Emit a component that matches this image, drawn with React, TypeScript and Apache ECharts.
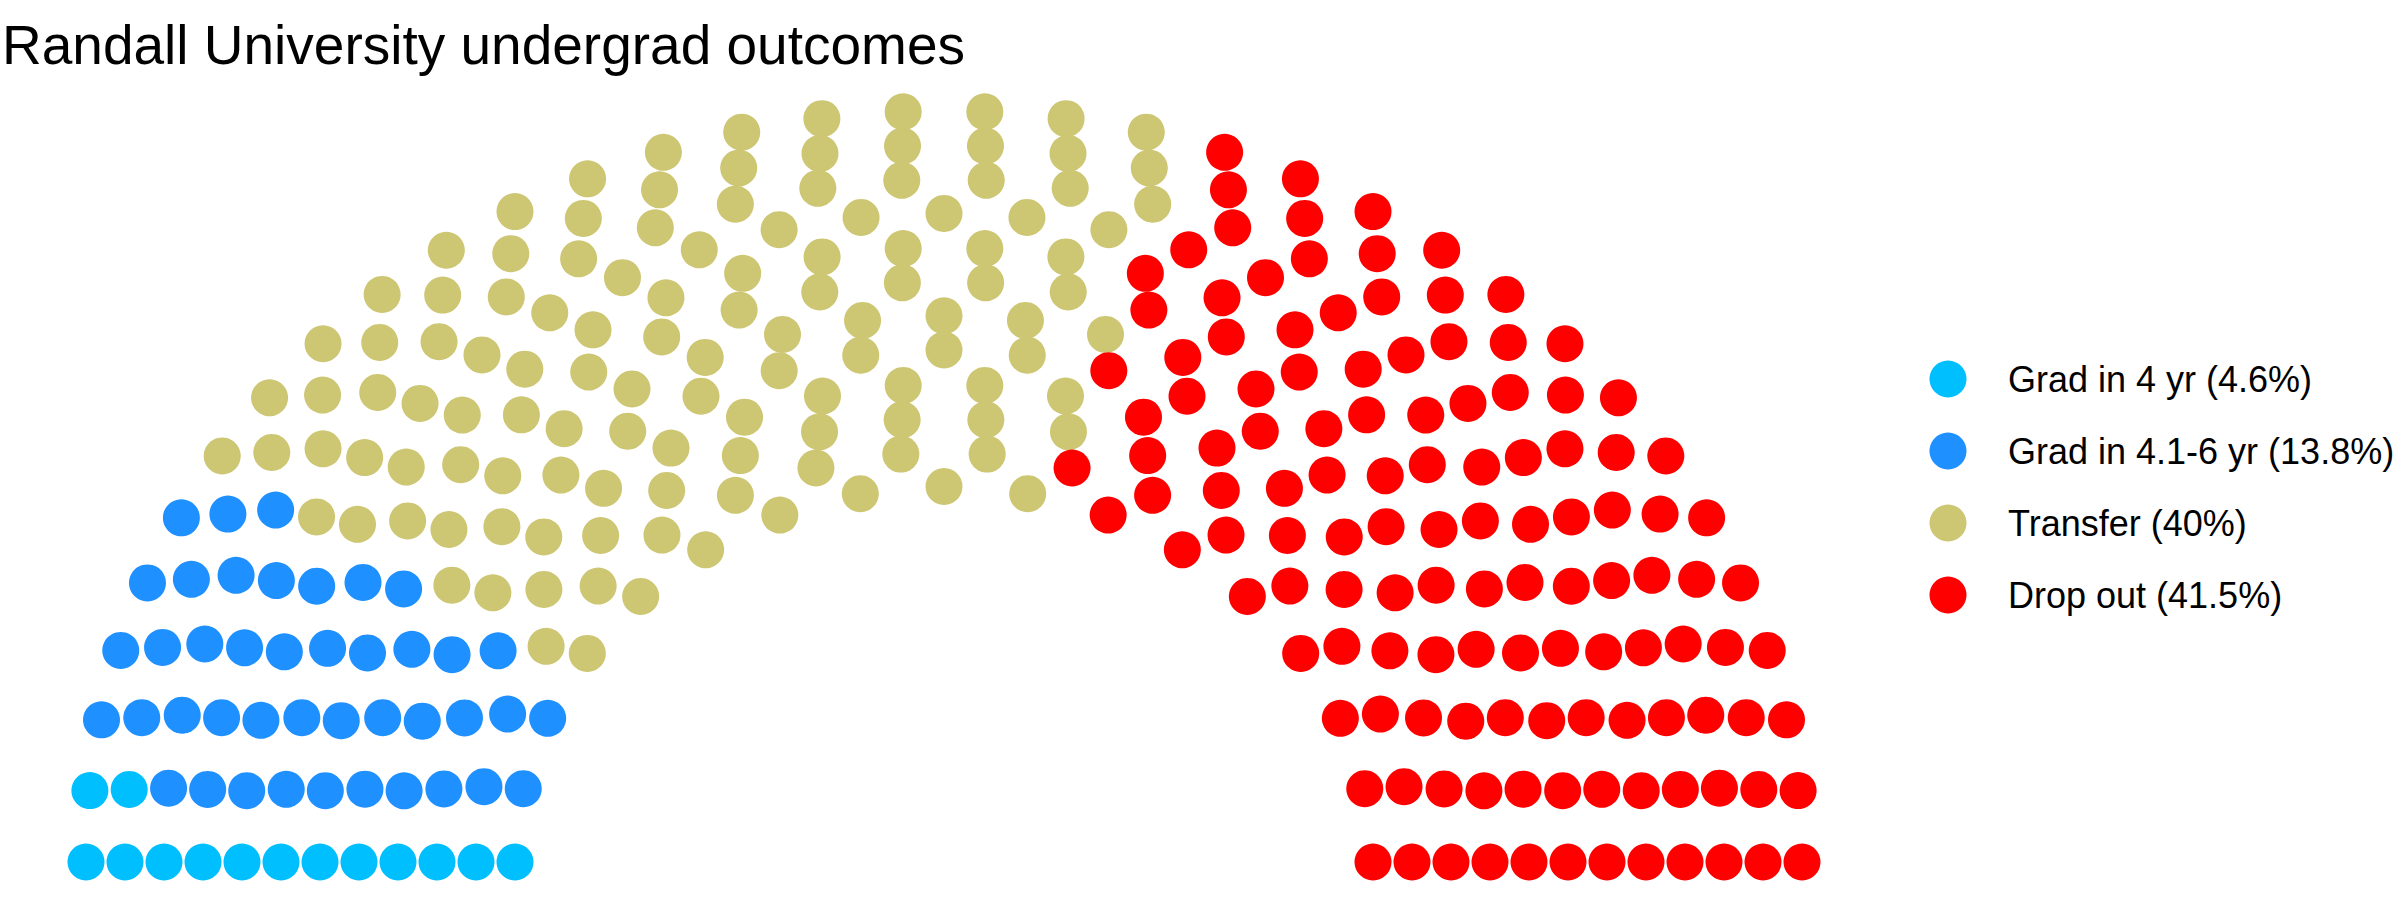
import { useEffect, useRef } from 'react';
import * as echarts from 'echarts';

// seats per outcome (304 dots in 12 rows)
const categories = [
  'Grad in 4 yr (4.6%)',
  'Grad in 4.1-6 yr (13.8%)',
  'Transfer (40%)',
  'Drop out (41.5%)',
];
const seats = [14, 42, 122, 126];
const colors = ['#00BFFF', '#1E90FF', '#CDC673', '#FF0000'];
const rowCount = 12;

const fontFamily = '"Liberation Sans", Arial, Helvetica, sans-serif';

type Seat = { x: number; y: number; row: number; theta: number };

// semicircle parliament layout: rows with radii 1..2, seats per row proportional to radius
function semicircleLayout(total: number, rows: number): Seat[] {
  const radii = Array.from({ length: rows }, (_, i) => 1 + i / (rows - 1));
  let left = total;
  const pts: Seat[] = [];
  radii.forEach((r, i) => {
    const rest = radii.slice(i).reduce((a, b) => a + b, 0);
    const n = Math.round((left * r) / rest);
    left -= n;
    for (let k = 0; k < n; k++) {
      const theta = n === 1 ? 0 : (Math.PI * k) / (n - 1);
      pts.push({ x: r * Math.cos(theta), y: r * Math.sin(theta), row: i, theta });
    }
  });
  pts.sort((a, b) => {
    const d = b.theta - a.theta;
    if (Math.abs(d) > 1e-9) return d;
    return b.row - a.row;
  });
  return pts;
}

export default function App() {
  const chartRef = useRef<HTMLDivElement>(null);

  useEffect(() => {
    if (!chartRef.current) return;
    const chart = echarts.init(chartRef.current, null, { renderer: 'svg' });

    const total = seats.reduce((a, b) => a + b, 0);
    const layout = semicircleLayout(total, rowCount);

    // hand out seats in angle order
    const groups: number[][][] = categories.map(() => []);
    let idx = 0;
    seats.forEach((count, p) => {
      for (let j = 0; j < count; j++) {
        const s = layout[idx++];
        groups[p].push([s.x, s.y]);
      }
    });

    chart.setOption({
      animation: false,
      title: {
        text: 'Randall University undergrad outcomes',
        left: 2,
        top: 17,
        padding: 0,
        textStyle: {
          fontSize: 55,
          lineHeight: 55,
          fontWeight: 'normal',
          color: '#000',
          fontFamily,
        },
      },
      legend: {
        orient: 'vertical',
        left: 1929.5,
        top: 360.5,
        padding: 0,
        itemWidth: 110,
        itemHeight: 37,
        itemGap: 35,
        icon: 'circle',
        selectedMode: false,
        textStyle: { fontSize: 36, lineHeight: 36, color: '#000', fontFamily },
        data: categories,
      },
      grid: { left: 86, right: 598, top: 111, bottom: 38 },
      xAxis: { type: 'value', min: -2, max: 2, show: false },
      yAxis: { type: 'value', min: 0, max: 2, show: false },
      series: categories.map((name, p) => ({
        name,
        type: 'scatter',
        data: groups[p],
        symbol: 'circle',
        symbolSize: 37,
        silent: true,
        itemStyle: { color: colors[p], opacity: 1 },
      })),
    });

    return () => {
      chart.dispose();
    };
  }, []);

  return (
    <div
      ref={chartRef}
      style={{
        position: 'fixed',
        left: 0,
        top: 0,
        width: '2400px',
        height: '900px',
        background: '#fff',
      }}
    />
  );
}
